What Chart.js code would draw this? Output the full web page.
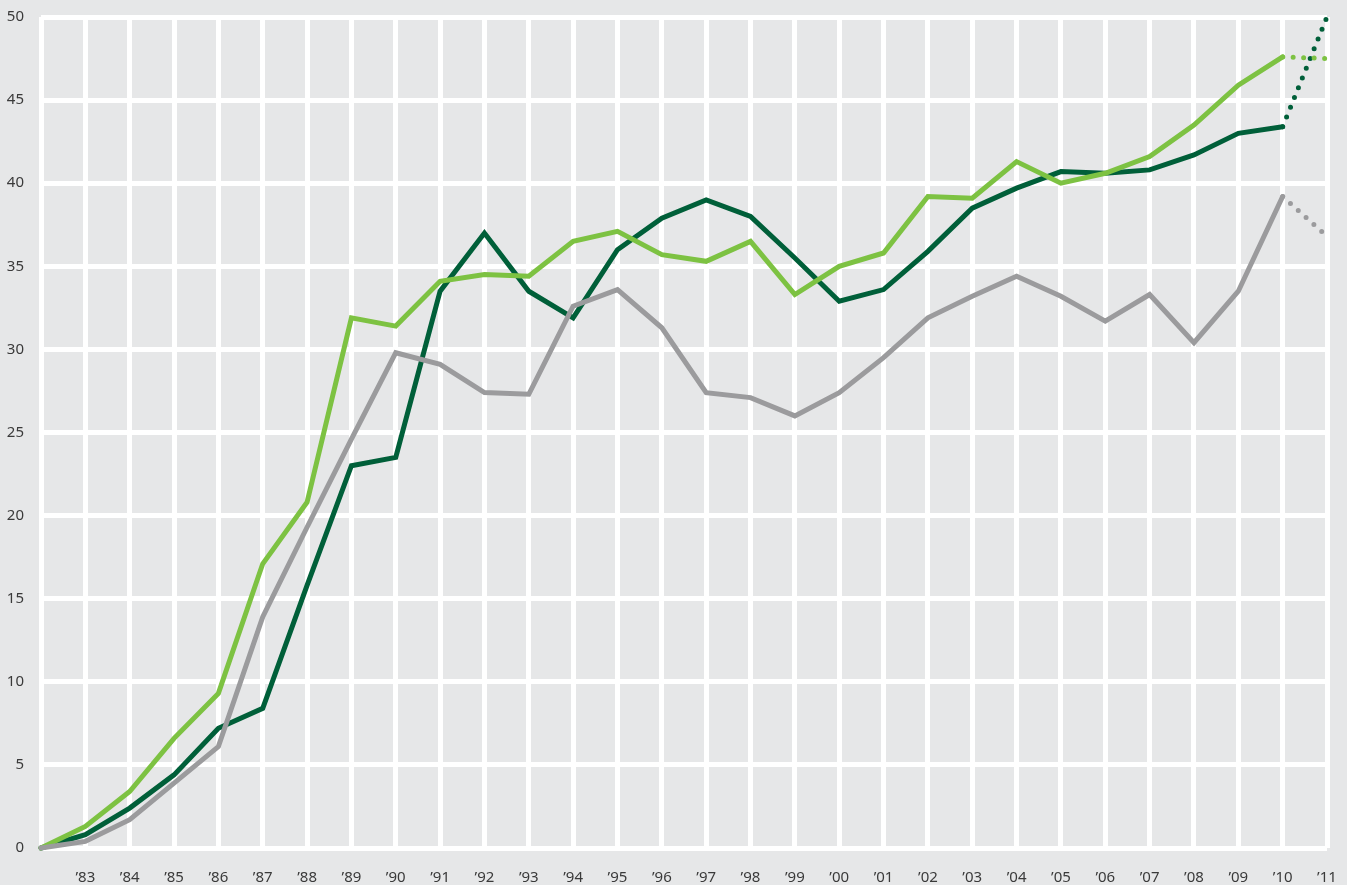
<!DOCTYPE html>
<html>
<head>
<meta charset="utf-8">
<script src="https://cdn.jsdelivr.net/npm/chart.js@4/dist/chart.umd.min.js"></script>
<style>
  html, body { margin: 0; padding: 0; background: #e6e7e8; }
  #wrap { width: 1347px; height: 885px; }
</style>
</head>
<body>
<div id="wrap"><canvas id="trendChart"></canvas></div>
<script>
const years = [1982, 1983, 1984, 1985, 1986, 1987, 1988, 1989, 1990, 1991, 1992, 1993, 1994, 1995, 1996,
  1997, 1998, 1999, 2000, 2001, 2002, 2003, 2004, 2005, 2006, 2007, 2008, 2009, 2010, 2011];
const tickLabels = ['', '’83', '’84', '’85', '’86', '’87', '’88', '’89', '’90', '’91', '’92', '’93', '’94', '’95', '’96',
  '’97', '’98', '’99', '’00', '’01', '’02', '’03', '’04', '’05', '’06', '’07', '’08', '’09', '’10', '’11'];

const lightGreen = [0, 1.3, 3.4, 6.6, 9.3, 17.1, 20.8, 31.9, 31.4, 34.1, 34.5, 34.4, 36.5, 37.1, 35.7,
  35.3, 36.5, 33.3, 35.0, 35.8, 39.2, 39.1, 41.3, 40.0, 40.6, 41.6, 43.5, 45.9, 47.6, 47.5];
const darkGreen = [0, 0.8, 2.4, 4.4, 7.2, 8.4, 15.8, 23.0, 23.5, 33.5, 37.0, 33.5, 31.9, 36.0, 37.9,
  39.0, 38.0, 35.5, 32.9, 33.6, 35.9, 38.5, 39.7, 40.7, 40.6, 40.8, 41.7, 43.0, 43.4, 50.0];
const grey = [0, 0.4, 1.7, 3.9, 6.1, 13.9, 19.3, 24.6, 29.8, 29.1, 27.4, 27.3, 32.6, 33.6, 31.3,
  27.4, 27.1, 26.0, 27.4, 29.5, 31.9, 33.2, 34.4, 33.2, 31.7, 33.3, 30.4, 33.5, 39.2, 36.8];

// last year is a projection, drawn dotted
const lastIdx = years.length - 1;
const dotted = ctx => ctx.p1DataIndex === lastIdx ? [0, 10.5] : undefined;

function lineSet(data, color) {
  return {
    data: data,
    borderColor: color,
    borderWidth: 5,
    pointRadius: 0,
    tension: 0,
    borderJoinStyle: 'miter',
    borderCapStyle: 'round',
    clip: false,
    segment: { borderDash: dotted }
  };
}

const bgPlugin = {
  id: 'bg',
  beforeDraw(chart) {
    const c = chart.ctx;
    c.save();
    c.fillStyle = '#e6e7e8';
    c.fillRect(0, 0, chart.width, chart.height);
    c.restore();
  }
};

// drop the label overhang so layout padding alone sets the plot edges
function noOverhang(s) {
  s.paddingTop = 0;
  s.paddingBottom = 0;
  s.paddingLeft = 0;
  s.paddingRight = 0;
}

const tickFont = { family: "'Noto Sans', sans-serif", size: 15 };

new Chart(document.getElementById('trendChart').getContext('2d'), {
  type: 'line',
  data: {
    labels: years,
    datasets: [
      lineSet(grey, '#9b9b9d'),
      lineSet(lightGreen, '#7dc242'),
      lineSet(darkGreen, '#005f39')
    ]
  },
  options: {
    responsive: true,
    maintainAspectRatio: false,
    animation: false,
    layout: { padding: { top: 17, right: 20, left: 0, bottom: 0 } },
    plugins: { legend: { display: false }, tooltip: { enabled: false } },
    scales: {
      x: {
        offset: false,
        grid: { color: '#ffffff', lineWidth: 5, drawTicks: false },
        border: { display: false },
        ticks: {
          autoSkip: false,
          maxRotation: 0,
          padding: 21,
          color: '#3a3a3a',
          font: tickFont,
          callback: (v, i) => tickLabels[i]
        },
        afterFit: s => { s.height = 37; noOverhang(s); }
      },
      y: {
        min: 0,
        max: 50,
        grid: { color: '#ffffff', lineWidth: 5, drawTicks: false },
        border: { display: false },
        ticks: { stepSize: 5, padding: 17, color: '#3a3a3a', font: tickFont },
        afterFit: s => { s.width = 41; noOverhang(s); }
      }
    }
  },
  plugins: [bgPlugin]
});
</script>
</body>
</html>
